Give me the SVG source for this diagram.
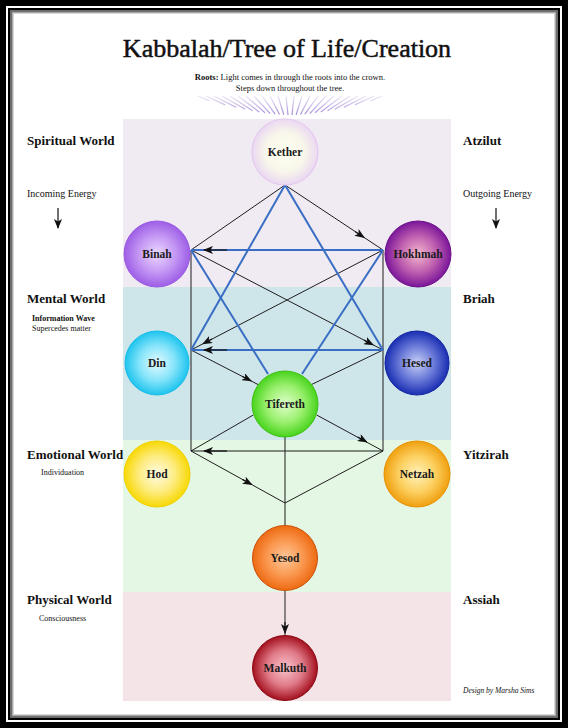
<svg xmlns="http://www.w3.org/2000/svg" width="568" height="728" viewBox="0 0 568 728">
<style>
.t{font-family:"Liberation Serif","Times New Roman",serif;fill:#111}
.lab{font-size:13px;font-weight:bold}
.sm{font-size:10px}
.tiny{font-size:8px}
.nd text{font-family:"Liberation Serif","Times New Roman",serif;font-weight:bold;font-size:11.5px;text-anchor:middle;fill:#1a1a1a}
.blk{stroke:#1e1e1e;stroke-width:1;fill:none}
.blu{stroke:#3a6ec4;stroke-width:2;fill:none}
.arr{stroke:#111;stroke-width:1.2;fill:none;marker-end:url(#ah)}
.ray{stroke:url(#rg);stroke-width:1.2}
</style>
<defs>
<marker id="ah" markerUnits="userSpaceOnUse" markerWidth="10" markerHeight="8" refX="9" refY="4" orient="auto">
<path d="M0,0 L10,4 L0,8 L2.5,4 z" fill="#111"/>
</marker>
<linearGradient id="rg" gradientUnits="userSpaceOnUse" x1="0" y1="95" x2="0" y2="116">
<stop offset="0" stop-color="#f0ecf8"/><stop offset="1" stop-color="#a386d8"/>
</linearGradient>
<radialGradient id="gKether"><stop offset="0" stop-color="#fffff2"/><stop offset="0.6" stop-color="#f8f6ea"/><stop offset="1" stop-color="#ead8f2"/></radialGradient>
<radialGradient id="gBinah"><stop offset="0" stop-color="#ead8ff"/><stop offset="0.55" stop-color="#c598f4"/><stop offset="1" stop-color="#9d5ee6"/></radialGradient>
<radialGradient id="gHokhmah"><stop offset="0" stop-color="#f4b8cc"/><stop offset="0.55" stop-color="#c060b0"/><stop offset="1" stop-color="#7a169a"/></radialGradient>
<radialGradient id="gDin"><stop offset="0" stop-color="#e4fbff"/><stop offset="0.55" stop-color="#86e4fa"/><stop offset="1" stop-color="#1ec4ee"/></radialGradient>
<radialGradient id="gHesed"><stop offset="0" stop-color="#c8d0f4"/><stop offset="0.55" stop-color="#6878d8"/><stop offset="1" stop-color="#1a2eb2"/></radialGradient>
<radialGradient id="gTifereth"><stop offset="0" stop-color="#e0ffcc"/><stop offset="0.55" stop-color="#9cf070"/><stop offset="1" stop-color="#48d41c"/></radialGradient>
<radialGradient id="gHod"><stop offset="0" stop-color="#fffbe4"/><stop offset="0.55" stop-color="#fdec80"/><stop offset="1" stop-color="#f8d804"/></radialGradient>
<radialGradient id="gNetzah"><stop offset="0" stop-color="#fff2bc"/><stop offset="0.55" stop-color="#fcd060"/><stop offset="1" stop-color="#f0a010"/></radialGradient>
<radialGradient id="gYesod"><stop offset="0" stop-color="#ffc89a"/><stop offset="0.55" stop-color="#fa9850"/><stop offset="1" stop-color="#ee6a12"/></radialGradient>
<radialGradient id="gMalkuth"><stop offset="0" stop-color="#fac4cc"/><stop offset="0.55" stop-color="#e07a88"/><stop offset="1" stop-color="#a4101e"/></radialGradient>
</defs>

<!-- frame -->
<rect x="0" y="0" width="568" height="728" fill="#000"/>
<rect x="6" y="6" width="556" height="716" fill="#fff"/>
<rect x="8" y="8" width="552" height="712" fill="#000"/>
<rect x="10" y="10" width="548" height="708" fill="#fff"/>
<rect x="11" y="11" width="546" height="706" fill="none" stroke="#6a6a6a" stroke-width="2"/>
<rect x="12.5" y="12.5" width="543" height="703" fill="none" stroke="#a8a8a8" stroke-width="1.2"/>
<rect x="13.5" y="13.5" width="541" height="701" fill="none" stroke="#d8d8d8" stroke-width="1"/>

<!-- bands -->
<rect x="123" y="119" width="328" height="168" fill="#f0eaf2"/>
<rect x="123" y="287" width="328" height="153" fill="#cee5ea"/>
<rect x="123" y="440" width="328" height="152" fill="#e4f6e4"/>
<rect x="123" y="592" width="328" height="109" fill="#f4e4e8"/>

<!-- title -->
<text class="t" x="287" y="57" font-size="26" text-anchor="middle" stroke="#111" stroke-width="0.5">Kabbalah/Tree of Life/Creation</text>
<text class="t" x="290" y="80" font-size="8.5" text-anchor="middle"><tspan font-weight="bold">Roots:</tspan> Light comes in through the roots into the crown.</text>
<text class="t" x="290" y="91" font-size="8.5" text-anchor="middle">Steps down throughout the tree.</text>

<!-- rays -->
<g id="rays">
<line class="ray" x1="209.3" y1="100.8" x2="198" y2="96"/>
<line class="ray" x1="225.2" y1="104.9" x2="206" y2="96"/>
<line class="ray" x1="236.2" y1="107.4" x2="214" y2="96"/>
<line class="ray" x1="245.2" y1="109.3" x2="222" y2="96"/>
<line class="ray" x1="252.6" y1="110.7" x2="230" y2="96"/>
<line class="ray" x1="259.2" y1="111.9" x2="238" y2="96"/>
<line class="ray" x1="265" y1="112.8" x2="246" y2="96"/>
<line class="ray" x1="270.2" y1="113.6" x2="254" y2="96"/>
<line class="ray" x1="275.1" y1="114.2" x2="262" y2="96"/>
<line class="ray" x1="279.5" y1="114.6" x2="270" y2="96"/>
<line class="ray" x1="283.8" y1="114.8" x2="278" y2="96"/>
<line class="ray" x1="288" y1="115" x2="286" y2="96"/>
<line class="ray" x1="292" y1="115" x2="294" y2="96"/>
<line class="ray" x1="296.2" y1="114.8" x2="302" y2="96"/>
<line class="ray" x1="300.5" y1="114.6" x2="310" y2="96"/>
<line class="ray" x1="304.9" y1="114.2" x2="318" y2="96"/>
<line class="ray" x1="309.8" y1="113.6" x2="326" y2="96"/>
<line class="ray" x1="315" y1="112.8" x2="334" y2="96"/>
<line class="ray" x1="320.8" y1="111.9" x2="342" y2="96"/>
<line class="ray" x1="327.4" y1="110.7" x2="350" y2="96"/>
<line class="ray" x1="334.8" y1="109.3" x2="358" y2="96"/>
<line class="ray" x1="343.8" y1="107.4" x2="366" y2="96"/>
<line class="ray" x1="354.8" y1="104.9" x2="374" y2="96"/>
<line class="ray" x1="370.7" y1="100.8" x2="382" y2="96"/>
</g>

<!-- side labels -->
<g id="labels-left">
<text class="t lab" x="27" y="145">Spiritual World</text>
<text class="t sm" x="27" y="197">Incoming Energy</text>
<line class="arr" x1="58" y1="208" x2="58" y2="228"/>
<text class="t lab" x="27" y="303">Mental World</text>
<text class="t tiny" x="32" y="321" font-weight="bold">Information Wave</text>
<text class="t tiny" x="32" y="331">Supercedes matter</text>
<text class="t lab" x="27" y="459">Emotional World</text>
<text class="t tiny" x="41" y="475">Individuation</text>
<text class="t lab" x="27" y="604">Physical World</text>
<text class="t tiny" x="39" y="621">Consciousness</text>
</g>
<g id="labels-right">
<text class="t lab" x="463" y="145">Atzilut</text>
<text class="t sm" x="463" y="197">Outgoing Energy</text>
<line class="arr" x1="496" y1="208" x2="496" y2="228"/>
<text class="t lab" x="463" y="303">Briah</text>
<text class="t lab" x="463" y="459">Yitzirah</text>
<text class="t lab" x="463" y="604">Assiah</text>
<text class="t" x="463" y="693" font-size="7.5" font-style="italic">Design by Marsha Sims</text>
</g>

<!-- connectors -->
<g id="connectors">
<line class="blk" x1="285" y1="185" x2="191" y2="250"/>
<line class="blk" x1="285" y1="185" x2="383" y2="250"/>
<line class="blk" x1="191" y1="250" x2="191" y2="451"/>
<line class="blk" x1="383" y1="250" x2="383" y2="451"/>
<line class="blk" x1="191" y1="250" x2="383" y2="350"/>
<line class="blk" x1="383" y1="250" x2="191" y2="350"/>
<line class="blk" x1="191" y1="350" x2="258" y2="384.5"/>
<line class="blk" x1="383" y1="350" x2="312" y2="384.3"/>
<line class="blk" x1="253.3" y1="415" x2="191" y2="451"/>
<line class="blk" x1="316.7" y1="415" x2="383" y2="451"/>
<line class="blk" x1="383" y1="451" x2="191" y2="451"/>
<line class="blk" x1="191" y1="451" x2="285" y2="503"/>
<line class="blk" x1="383" y1="451" x2="285" y2="503"/>
<line class="blk" x1="285" y1="437" x2="285" y2="526"/>
<line class="blk" x1="285" y1="591" x2="285" y2="636"/>
<line class="blu" x1="383" y1="250" x2="191" y2="250"/>
<line class="blu" x1="383" y1="350" x2="191" y2="350"/>
<line class="blu" x1="285" y1="185" x2="191" y2="350"/>
<line class="blu" x1="285" y1="185" x2="383" y2="350"/>
<line class="blu" x1="191" y1="250" x2="268" y2="374"/>
<line class="blu" x1="383" y1="250" x2="302" y2="374"/>
<!-- arrowheads -->
<line class="arr" x1="355" y1="231.5" x2="364" y2="237.4"/>
<line class="arr" x1="227" y1="250" x2="204" y2="250"/>
<line class="arr" x1="364" y1="340.1" x2="373" y2="344.8"/>
<line class="arr" x1="212" y1="339" x2="203" y2="343.7"/>
<line class="arr" x1="227" y1="350" x2="204" y2="350"/>
<line class="arr" x1="242" y1="376.2" x2="251" y2="380.9"/>
<line class="arr" x1="357.7" y1="437" x2="366.7" y2="441.9"/>
<line class="arr" x1="227" y1="451" x2="204" y2="451"/>
<line class="arr" x1="242.7" y1="479.6" x2="251.7" y2="484.5"/>
<line class="arr" x1="285" y1="622" x2="285" y2="633"/>
</g>

<!-- nodes -->
<g id="kether" class="nd"><circle cx="285" cy="152" r="33" fill="url(#gKether)" stroke="#e6c8ee" stroke-width="1.2"/><text x="285" y="156">Kether</text></g>
<g id="binah" class="nd"><circle cx="157" cy="254" r="33" fill="url(#gBinah)" stroke="#9a5ae0" stroke-width="1"/><text x="157" y="258">Binah</text></g>
<g id="hokhmah" class="nd"><circle cx="418" cy="254" r="33" fill="url(#gHokhmah)" stroke="#6a1088" stroke-width="1"/><text x="418" y="258">Hokhmah</text></g>
<g id="din" class="nd"><circle cx="157" cy="363" r="32" fill="url(#gDin)" stroke="#18bce8" stroke-width="1"/><text x="157" y="367">Din</text></g>
<g id="hesed" class="nd"><circle cx="417" cy="363" r="32" fill="url(#gHesed)" stroke="#1424a0" stroke-width="1"/><text x="417" y="367">Hesed</text></g>
<g id="tifereth" class="nd"><circle cx="285" cy="404" r="33" fill="url(#gTifereth)" stroke="#3cc012" stroke-width="1"/><text x="285" y="408">Tifereth</text></g>
<g id="hod" class="nd"><circle cx="157" cy="474" r="33" fill="url(#gHod)" stroke="#f0d000" stroke-width="1"/><text x="157" y="478">Hod</text></g>
<g id="netzah" class="nd"><circle cx="417" cy="474" r="33" fill="url(#gNetzah)" stroke="#e89000" stroke-width="1"/><text x="417" y="478">Netzah</text></g>
<g id="yesod" class="nd"><circle cx="285" cy="558" r="32.5" fill="url(#gYesod)" stroke="#c85008" stroke-width="1"/><text x="285" y="562">Yesod</text></g>
<g id="malkuth" class="nd"><circle cx="285" cy="668" r="32.5" fill="url(#gMalkuth)" stroke="#8a0a14" stroke-width="1"/><text x="285" y="672">Malkuth</text></g>
</svg>
